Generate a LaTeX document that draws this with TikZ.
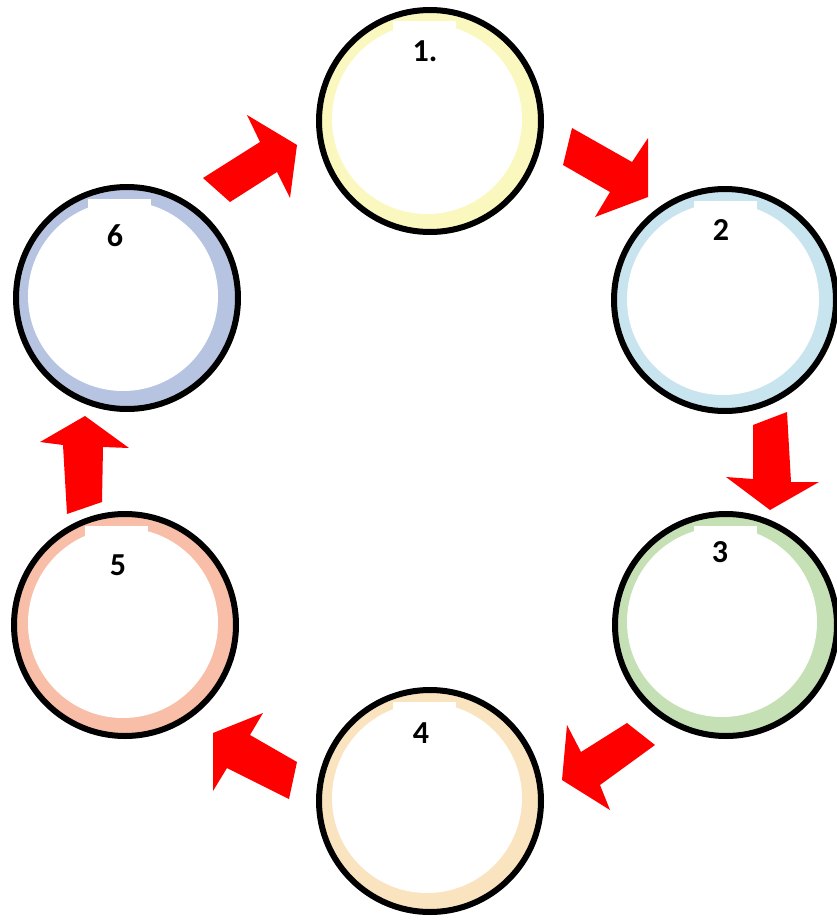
\documentclass[tikz,border=0pt]{standalone}
\usepackage{fontspec}
\setmainfont{Carlito}
\usepackage{tikz}
\usetikzlibrary{calc}

\definecolor{ringA}{RGB}{250,248,190}
\definecolor{ringB}{RGB}{200,228,238}
\definecolor{ringC}{RGB}{197,224,180}
\definecolor{ringD}{RGB}{250,228,192}
\definecolor{ringE}{RGB}{248,190,168}
\definecolor{ringF}{RGB}{182,196,226}
\definecolor{arrowred}{RGB}{255,0,0}

\tikzset{
    stage/.style={circle, minimum size=226pt, inner sep=0pt},
    stagelabel/.style={font=\fontsize{16}{19}\selectfont\bfseries, inner sep=0pt},
    rim/.style={draw=black, line width=3pt},
    blockarrow/.style={fill=arrowred, draw=none}
}

\begin{document}
\begin{tikzpicture}[x=0.5pt, y=-0.5pt]
        \useasboundingbox (0,0) rectangle (836,921);

        % stage positions
        \node[stage] (c1) at (430,121) {};
        \node[stage] (c2) at (725,300) {};
        \node[stage] (c3) at (726,625) {};
        \node[stage] (c4) at (430,801) {};
        \node[stage] (c5) at (125,625) {};
        \node[stage] (c6) at (127,298) {};

        % coloured rings
        \fill[ringA] (c1) circle (110);
        \fill[ringB] (c2) circle (110);
        \fill[ringC] (c3) circle (110);
        \fill[ringD] (c4) circle (110);
        \fill[ringE] (c5) circle (110);
        \fill[ringF] (c6) circle (110);
        \fill[white] ($(c1)+(-3,-2)$) circle (95);
        \fill[white] ($(c2)+(-2,-1)$) circle (96);
        \fill[white] ($(c3)+(-4,-3)$) circle (95);
        \fill[white] ($(c4)+(-3,-3)$) circle (95);
        \fill[white] ($(c5)+(-2,-2)$) circle (95);
        \fill[white] ($(c6)+(-4,-2)$) circle (95);

        % gaps at the top of the rings
        \fill[white] ($(c1)+(-37,-100)$) rectangle ($(c1)+(26,-86)$);
        \fill[white] ($(c2)+(-31,-99)$) rectangle ($(c2)+(32,-86)$);
        \fill[white] ($(c3)+(-32,-99)$) rectangle ($(c3)+(31,-86)$);
        \fill[white] ($(c4)+(-37,-99)$) rectangle ($(c4)+(26,-86)$);
        \fill[white] ($(c5)+(-40,-99)$) rectangle ($(c5)+(23,-86)$);
        \fill[white] ($(c6)+(-39,-99)$) rectangle ($(c6)+(24,-86)$);

        % black outlines
        \draw[rim] (c1) circle (111);
        \draw[rim] (c2) circle (111);
        \draw[rim] (c3) circle (111);
        \draw[rim] (c4) circle (111);
        \draw[rim] (c5) circle (111);
        \draw[rim] (c6) circle (111);

        % labels
        \node[stagelabel] (l1) at (425,51) {1.};
        \node[stagelabel] (l2) at (721,230) {2};
        \node[stagelabel] (l3) at (720,552) {3};
        \node[stagelabel] (l4) at (421,733) {4};
        \node[stagelabel] (l5) at (118,565) {5};
        \node[stagelabel] (l6) at (115,236) {6};

        % arrows between stages
        \fill[blockarrow] (203,178) -- (260,142) -- (247,115) -- (297,145) -- (290,198) -- (277,172) -- (230,202) -- cycle;
        \fill[blockarrow] (572,128) -- (632,162) -- (648,138) -- (648,197) -- (595,217) -- (610,192) -- (563,165) -- cycle;
        \fill[blockarrow] (753,425) -- (787,412) -- (791,482) -- (819,482) -- (770,510) -- (726,477) -- (753,479) -- cycle;
        \fill[blockarrow] (627,723) -- (655,745) -- (600,785) -- (610,810) -- (562,780) -- (567,725) -- (581,752) -- cycle;
        \fill[blockarrow] (297,762) -- (289,799) -- (227,768) -- (213,791) -- (213,733) -- (263,713) -- (250,735) -- cycle;
        \fill[blockarrow] (67,514) -- (102,502) -- (103,447) -- (129,448) -- (85,416) -- (40,442) -- (63,445) -- cycle;
    \end{tikzpicture}
\end{document}
